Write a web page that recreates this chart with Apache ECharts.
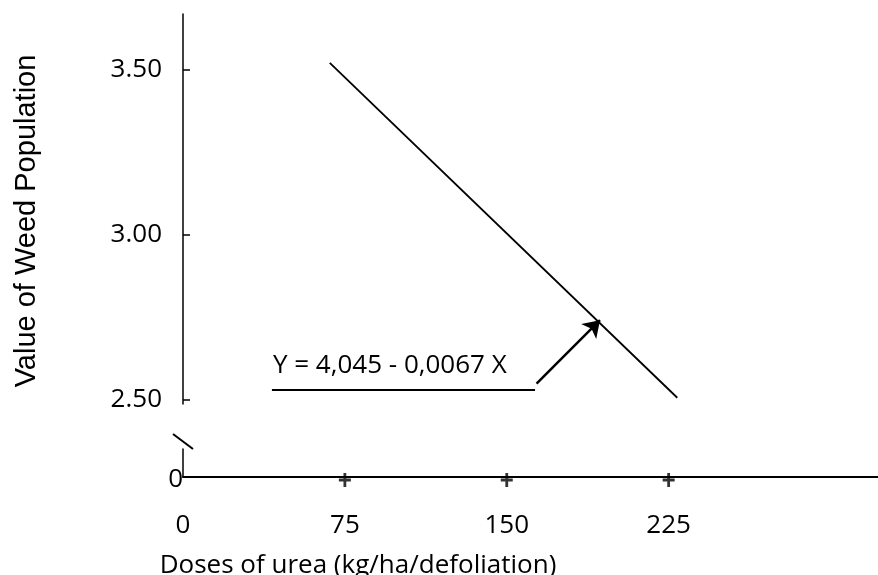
<!DOCTYPE html>
<html><head><meta charset="utf-8">
<script src="https://cdn.jsdelivr.net/npm/echarts@6/dist/echarts.min.js"></script>
<style>html,body{margin:0;padding:0;background:#fff}#c{width:878px;height:575px}</style>
</head><body><div id="c"></div>
<script>
// ---- data ----
const xTickValues = [0, 75, 150, 225];
const crossTickValues = [75, 150, 225];
const yTickValues = [2.5, 3.0, 3.5];
const lowerYTickValues = [0];
const lineX = [68, 229];
const lineY = [3.52, 2.505];
const equationText = 'Y = 4,045 - 0,0067 X';
const xTitle = 'Doses of urea (kg/ha/defoliation)';
const yTitle = 'Value of Weed Population';
// annotation anchors (data space)
const underlineX = [41.2, 163.1];
const underlineY = 2.528;
const arrowFrom = [163.8, 2.548];
const arrowTo = [193.2, 2.74];

const FONT = '"Open Sans", sans-serif';
const chart = echarts.init(document.getElementById('c'));
const option = {
  animation: false,
  backgroundColor: '#fff',
  grid: [
    { left: 183, right: 0, top: 14, height: 390 },
    { left: 183, right: 0, top: 449, height: 28 }
  ],
  xAxis: [
    { gridIndex: 0, type: 'value', min: 0, max: 322, show: false },
    { gridIndex: 1, type: 'value', min: 0, max: 322,
      axisLine: { show: true, onZero: false, lineStyle: { color: '#000', width: 2 } },
      axisTick: { show: false }, splitLine: { show: false },
      axisLabel: { customValues: xTickValues, margin: 36, color: '#000', fontSize: 26, fontFamily: FONT } }
  ],
  yAxis: [
    { gridIndex: 0, type: 'value', min: 2.486, max: 3.668,
      axisLine: { show: true, lineStyle: { color: '#000', width: 1.5 } },
      axisTick: { show: true, inside: true, length: 7, customValues: yTickValues, lineStyle: { color: '#000', width: 1.5 } },
      axisLabel: { customValues: yTickValues, margin: 21, color: '#000', fontSize: 26, fontFamily: FONT,
                   formatter: v => v.toFixed(2) },
      splitLine: { show: false } },
    { gridIndex: 1, type: 'value', min: 0, max: 1,
      axisLine: { show: true, lineStyle: { color: '#000', width: 1.5 } },
      axisTick: { show: false },
      axisLabel: { customValues: lowerYTickValues, margin: 0, color: '#000', fontSize: 26, fontFamily: FONT,
                   verticalAlign: 'top', lineHeight: 6 },
      splitLine: { show: false } }
  ],
  series: [
    { type: 'line', xAxisIndex: 0, yAxisIndex: 0, symbol: 'none', silent: true,
      data: lineX.map((x, i) => [x, lineY[i]]),
      lineStyle: { color: '#000', width: 1.8 },
      markLine: {
        silent: true, animation: false, symbol: 'none', label: { show: false },
        lineStyle: { color: '#000', type: 'solid', width: 2 },
        emphasis: { disabled: true },
        data: [
          [{ coord: [underlineX[0], underlineY], symbol: 'none', lineStyle: { width: 2 } },
           { coord: [underlineX[1], underlineY], symbol: 'none' }],
          [{ coord: arrowFrom, symbol: 'none', lineStyle: { width: 2.5 } },
           { coord: arrowTo, symbol: 'arrow', symbolSize: 16 }]
        ]
      } },
    { type: 'scatter', xAxisIndex: 1, yAxisIndex: 1, silent: true, clip: false,
      data: crossTickValues.map(v => [v, 0]),
      symbol: 'path://M4.6,0H7.4V5.6H12V8.4H7.4V14H4.6V8.4H0V5.6H4.6Z', symbolSize: [12, 14], symbolKeepAspect: false,
      symbolOffset: [0, 3], itemStyle: { color: '#000' } }
  ]
};
chart.setOption(option);

const eqPx = chart.convertToPixel({ xAxisIndex: 0, yAxisIndex: 0 }, [underlineX[0], underlineY]);
const brk = chart.convertToPixel({ xAxisIndex: 1, yAxisIndex: 1 }, [0, 1]);
chart.setOption({
  graphic: [
    { type: 'text', x: eqPx[0] + 1, y: eqPx[1] - 25, silent: true,
      style: { text: equationText, fontSize: 26, fontFamily: FONT, fill: '#000', align: 'left', verticalAlign: 'middle' } },
    { type: 'line', silent: true,
      shape: { x1: brk[0] - 10, y1: brk[1] - 15, x2: brk[0] + 10, y2: brk[1] },
      style: { stroke: '#000', lineWidth: 2 } },
    { type: 'text', x: 358, y: 566, silent: true,
      style: { text: xTitle, fontSize: 26, fontFamily: FONT, fill: '#000', align: 'center', verticalAlign: 'middle' } },
    { type: 'text', x: 27, y: 221, rotation: Math.PI / 2, silent: true,
      style: { text: yTitle, fontSize: 29, fontFamily: '"Liberation Sans", Arial, sans-serif', fill: '#000', align: 'center', verticalAlign: 'middle' } }
  ]
});
</script>
</body></html>
